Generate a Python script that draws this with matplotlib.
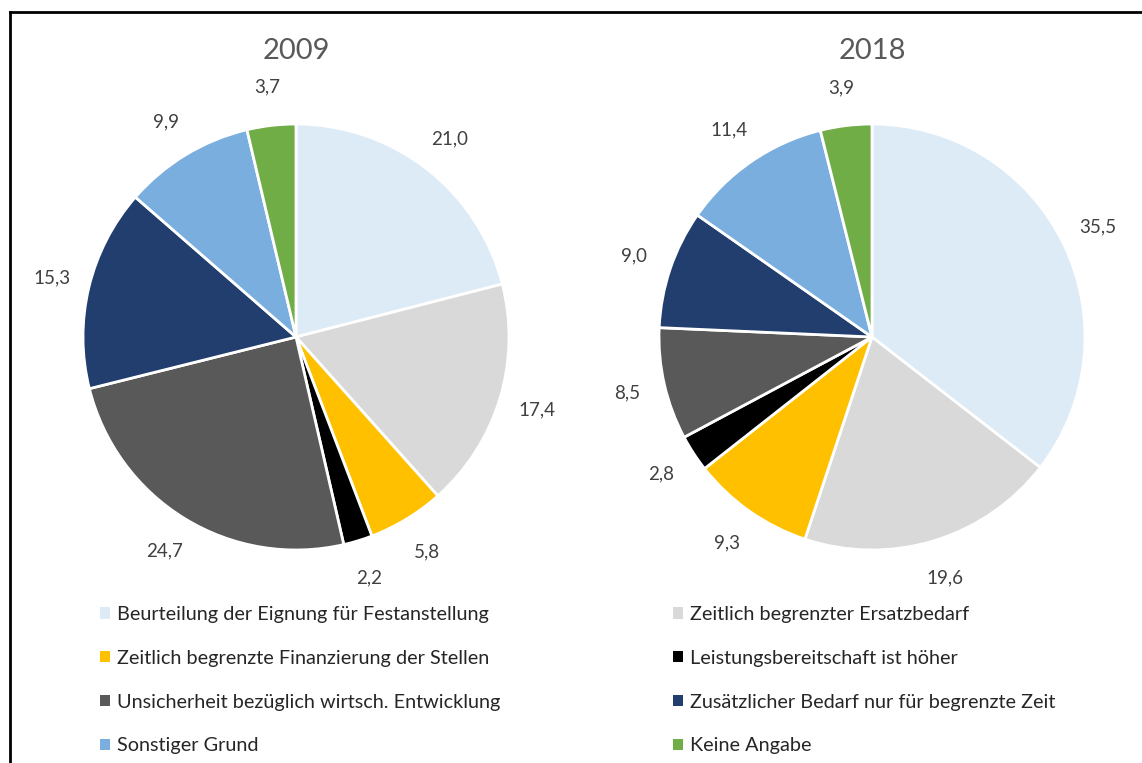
import numpy as np
import matplotlib
matplotlib.use("Agg")
import matplotlib.pyplot as plt
from matplotlib.patches import Patch
from matplotlib.lines import Line2D

plt.rcParams["font.family"] = ["Lato", "DejaVu Sans"]

categories = [
    "Beurteilung der Eignung für Festanstellung",
    "Zeitlich begrenzter Ersatzbedarf",
    "Zeitlich begrenzte Finanzierung der Stellen",
    "Leistungsbereitschaft ist höher",
    "Unsicherheit bezüglich wirtsch. Entwicklung",
    "Zusätzlicher Bedarf nur für begrenzte Zeit",
    "Sonstiger Grund",
    "Keine Angabe",
]
colors = ["#DDEBF7", "#D9D9D9", "#FFC000", "#000000",
          "#595959", "#223E6E", "#7AAEDF", "#70AD47"]

years = ["2009", "2018"]
values_2009 = [21.0, 17.4, 5.8, 2.2, 24.7, 15.3, 9.9, 3.7]
values_2018 = [35.5, 19.6, 9.3, 2.8, 8.5, 9.0, 11.4, 3.9]

W, H = 1142, 763
fig = plt.figure(figsize=(W / 100, H / 100), dpi=100)

R = 213          # pie radius in px
half = 260       # half size of each axes in px
centers = [(296, 337), (872, 337)]

for (cx, cy), year, vals in zip(centers, years, [values_2009, values_2018]):
    ax = fig.add_axes([(cx - half) / W, (H - cy - half) / H,
                       2 * half / W, 2 * half / H])
    lim = half / R
    wedges, texts = ax.pie(
        vals, colors=colors, startangle=90, counterclock=False,
        labels=[f"{v:.1f}".replace(".", ",") for v in vals],
        labeldistance=1.18,
        wedgeprops=dict(edgecolor="white", linewidth=2),
        textprops=dict(fontsize=13.5, color="#404040"),
    )
    for t in texts:
        t.set_ha("center")
        t.set_va("center")
    ax.set_xlim(-lim, lim)
    ax.set_ylim(-lim, lim)
    ax.set_aspect("equal")
    ax.axis("off")
    fig.text(cx / W, 1 - 51 / H, year, ha="center", va="center",
             fontsize=21, color="#595959")

# legend, two columns filled row by row
handles = [Patch(facecolor=c, edgecolor="none") for c in colors]
for col, x0 in enumerate([100, 673]):
    idx = list(range(col, len(categories), 2))
    leg = fig.legend([handles[i] for i in idx], [categories[i] for i in idx],
                     loc="upper left", bbox_to_anchor=(x0 / W, 1 - 606 / H),
                     frameon=False, fontsize=14.3, handlelength=0.5,
                     handleheight=0.5, handletextpad=0.35,
                     labelspacing=1.35, borderpad=0, borderaxespad=0)
    for t in leg.get_texts():
        t.set_color("#262626")

# frame lines (left and top visible)
fig.add_artist(Line2D([10 / W, 10 / W], [0, 1 - 12 / H], color="black",
                      lw=2, transform=fig.transFigure))
fig.add_artist(Line2D([10 / W, 1], [1 - 12 / H, 1 - 12 / H], color="black",
                      lw=2, transform=fig.transFigure))

fig.savefig("out.png", dpi=100)
